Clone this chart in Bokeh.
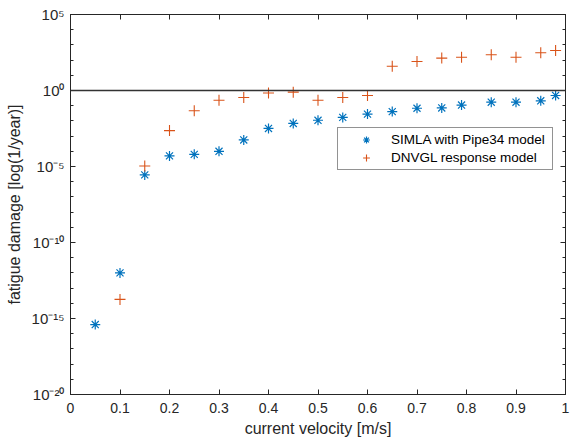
from bokeh.plotting import figure
from bokeh.models import (ColumnDataSource, FixedTicker, CustomJSTickFormatter, LinearAxis,
                          LogAxis, Span, Legend, LegendItem, Range1d)
from bokeh.embed import file_html
from bokeh.resources import INLINE

# ---- data ----
simla_v = [0.05, 0.1, 0.15, 0.2, 0.25, 0.3, 0.35, 0.4, 0.45, 0.5, 0.55, 0.6, 0.65, 0.7,
           0.75, 0.79, 0.85, 0.9, 0.95, 0.98]
simla_d = [3.98e-16, 1.0e-12, 2.8e-6, 5.0e-5, 6.3e-5, 1.0e-4, 5.6e-4, 3.2e-3, 6.8e-3, 1.1e-2,
           1.7e-2, 2.8e-2, 4.1e-2, 6.8e-2, 7.1e-2, 0.11, 0.17, 0.17, 0.21, 0.47]
dnv_v = [0.1, 0.15, 0.2, 0.25, 0.3, 0.35, 0.4, 0.45, 0.5, 0.55, 0.6, 0.65, 0.7, 0.75,
         0.79, 0.85, 0.9, 0.95, 0.98]
dnv_d = [1.8e-14, 1.07e-5, 2.3e-3, 4.7e-2, 0.23, 0.35, 0.69, 0.78, 0.23, 0.35, 0.47, 39.0,
         81.0, 135.0, 155.0, 224.0, 155.0, 302.0, 427.0]
x_ticks = [0, 0.1, 0.2, 0.3, 0.4, 0.5, 0.6, 0.7, 0.8, 0.9, 1.0]
y_major = [1e-20, 1e-15, 1e-10, 1e-5, 1e0, 1e5]
y_minor = [10.0 ** k for k in range(-20, 6)]
threshold = 1.0
labels = ["SIMLA with Pipe34 model", "DNVGL response model"]

BLUE = "#0072BD"
ORANGE = "#D95319"
AX = "#262626"
FONT = "Liberation Sans"

p = figure(width=570, height=445, y_axis_type="log", output_backend="svg",
           toolbar_location=None, x_range=Range1d(0, 1), y_range=Range1d(1e-20, 1e5),
           min_border_left=70, min_border_right=5, min_border_top=14, min_border_bottom=51)
p.xgrid.visible = False
p.ygrid.visible = False
p.outline_line_color = AX
p.outline_line_width = 1
p.background_fill_color = "white"
p.border_fill_color = "white"

xfmt = CustomJSTickFormatter(code="return tick.toFixed(1).replace(/\\.0$/, '');")
yfmt = CustomJSTickFormatter(code="""
const sup = {'0':'\u2070','1':'\u00b9','2':'\u00b2','3':'\u00b3','4':'\u2074','5':'\u2075',
             '6':'\u2076','7':'\u2077','8':'\u2078','9':'\u2079','-':'\u207b'};
const e = Math.round(Math.log10(tick)).toString();
let s = '';
for (const c of e) s += sup[c];
return '10' + s;
""")

def style_axis(ax, show_labels=True):
    ax.axis_line_color = AX
    ax.major_tick_line_color = AX
    ax.minor_tick_line_color = AX
    ax.major_tick_in = 5
    ax.major_tick_out = 0
    ax.minor_tick_in = 3
    ax.minor_tick_out = 0
    ax.major_label_text_font = FONT
    ax.major_label_text_font_size = "14px"
    ax.major_label_text_color = AX if show_labels else None
    ax.axis_label_text_font = FONT
    ax.axis_label_text_font_size = "16px"
    ax.axis_label_text_font_style = "normal"
    ax.axis_label_text_color = AX

xt = FixedTicker(ticks=x_ticks, minor_ticks=[])
yt = FixedTicker(ticks=y_major, minor_ticks=y_minor)

p.xaxis.ticker = xt
p.xaxis.formatter = xfmt
p.xaxis.axis_label = "current velocity [m/s]"
p.xaxis.major_label_standoff = 8
p.xaxis.axis_label_standoff = 4
style_axis(p.xaxis[0])

p.yaxis.ticker = yt
p.yaxis.formatter = yfmt
p.yaxis.axis_label = "fatigue damage [log(1/year)]"
p.yaxis.major_label_standoff = 6
p.yaxis.axis_label_standoff = 6
style_axis(p.yaxis[0])
p.yaxis.major_label_text_font_size = "15px"

top = LinearAxis(ticker=FixedTicker(ticks=x_ticks, minor_ticks=[]), formatter=xfmt)
style_axis(top, show_labels=False)
top.major_label_text_font_size = "0px"
p.add_layout(top, "above")
right = LogAxis(ticker=FixedTicker(ticks=y_major, minor_ticks=y_minor), formatter=yfmt)
style_axis(right, show_labels=False)
right.major_label_text_font_size = "0px"
p.add_layout(right, "right")

p.add_layout(Span(location=threshold, dimension="width", line_color="#333333", line_width=1.5))

s1 = ColumnDataSource(dict(v=simla_v, d=simla_d))
s2 = ColumnDataSource(dict(v=dnv_v, d=dnv_d))
r1 = p.scatter("v", "d", source=s1, marker="asterisk", size=10, line_color=BLUE, line_width=1.2)
r2 = p.scatter("v", "d", source=s2, marker="cross", size=11, line_color=ORANGE, line_width=1.1)

legend = Legend(items=[LegendItem(label=labels[0], renderers=[r1]),
                       LegendItem(label=labels[1], renderers=[r2])],
                location=(267, 224))
legend.border_line_color = AX
legend.border_line_width = 1
legend.background_fill_alpha = 1
legend.label_text_font = FONT
legend.label_text_font_size = "13.5px"
legend.label_text_color = "black"
legend.glyph_width = 50
legend.glyph_height = 17
legend.label_height = 17
legend.label_width = 158
legend.spacing = 1
legend.padding = 3
legend.margin = 0
legend.label_standoff = 0
legend.inactive_fill_alpha = 0
p.add_layout(legend, "center")

open("out.html", "w").write(file_html(p, INLINE))
